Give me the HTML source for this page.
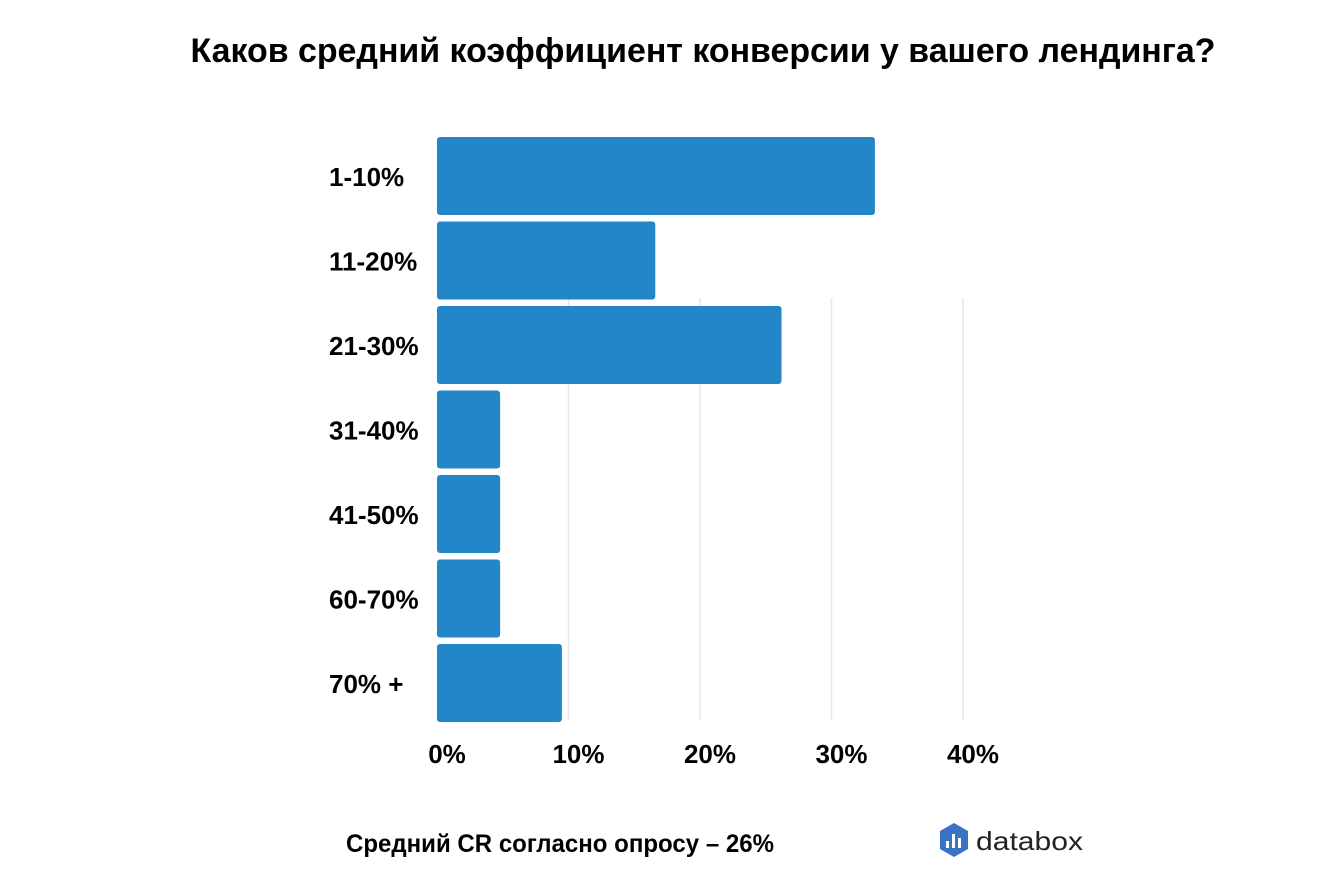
<!DOCTYPE html>
<html><head><meta charset="utf-8"><style>
body{margin:0;background:#fff;}
svg{display:block;font-family:"Liberation Sans Narrow","Liberation Sans",sans-serif;font-weight:bold;}
</style></head><body>
<svg width="1330" height="893" viewBox="0 0 1330 893">
<text x="703" y="62" text-anchor="middle" font-size="34" textLength="1025" lengthAdjust="spacingAndGlyphs" fill="#000">Каков средний коэффициент конверсии у вашего лендинга?</text>
<g id="grid"></g><g id="bars"></g><g id="ylabels"></g><g id="xlabels"></g>
<text x="560" y="852" text-anchor="middle" font-size="25" textLength="428" lengthAdjust="spacingAndGlyphs" fill="#000">Средний CR согласно опросу – 26%</text>
<g>
<polygon points="954,823 968,831 968,849 954,857 940,849 940,831" fill="#3a73c4"/>
<rect x="946" y="841" width="3" height="7" fill="#fff"/><rect x="952" y="834" width="3" height="14" fill="#fff"/><rect x="958" y="838" width="3" height="10" fill="#fff"/>
<text x="976" y="850" font-size="26" font-weight="normal" font-family="Liberation Sans,sans-serif" fill="#222" textLength="107" lengthAdjust="spacingAndGlyphs">databox</text>
</g>
</svg>
<script>
const categories=["1-10%","11-20%","21-30%","31-40%","41-50%","60-70%","70% +"];
const values=[33.3,16.6,26.2,4.8,4.8,4.8,9.5];
const ticks=[0,10,20,30,40];
const tickLabels=["0%","10%","20%","30%","40%"];
const NS="http://www.w3.org/2000/svg";
const x0=437,pxPer=13.15,y0=137,pitch=84.5,bh=78;
const xs=v=>x0+v*pxPer, ys=i=>y0+i*pitch;
function mk(t,a,p){const e=document.createElementNS(NS,t);for(const k in a)e.setAttribute(k,a[k]);document.getElementById(p).appendChild(e);return e;}
ticks.forEach((t,i)=>{
 if(i>0){const l=mk("line",{x1:xs(t),x2:xs(t),y1:298,y2:720,stroke:"#e6e6e6","stroke-width":1.5},"grid");
 
 }
 const tx=mk("text",{x:xs(t)+10,y:763,"text-anchor":"middle","font-size":26,fill:"#000"},"xlabels");
 tx.textContent=tickLabels[i];
 
 
});
categories.forEach((c,i)=>{
 const r=mk("rect",{x:x0,y:ys(i),width:xs(values[i])-x0,height:bh,rx:3,fill:"#2386c8"},"bars");
 
 
 const t=mk("text",{x:329,y:ys(i)+bh/2+10,"font-size":26,fill:"#000"},"ylabels");
 t.textContent=c;
 
 
});
</script>
</body></html>
